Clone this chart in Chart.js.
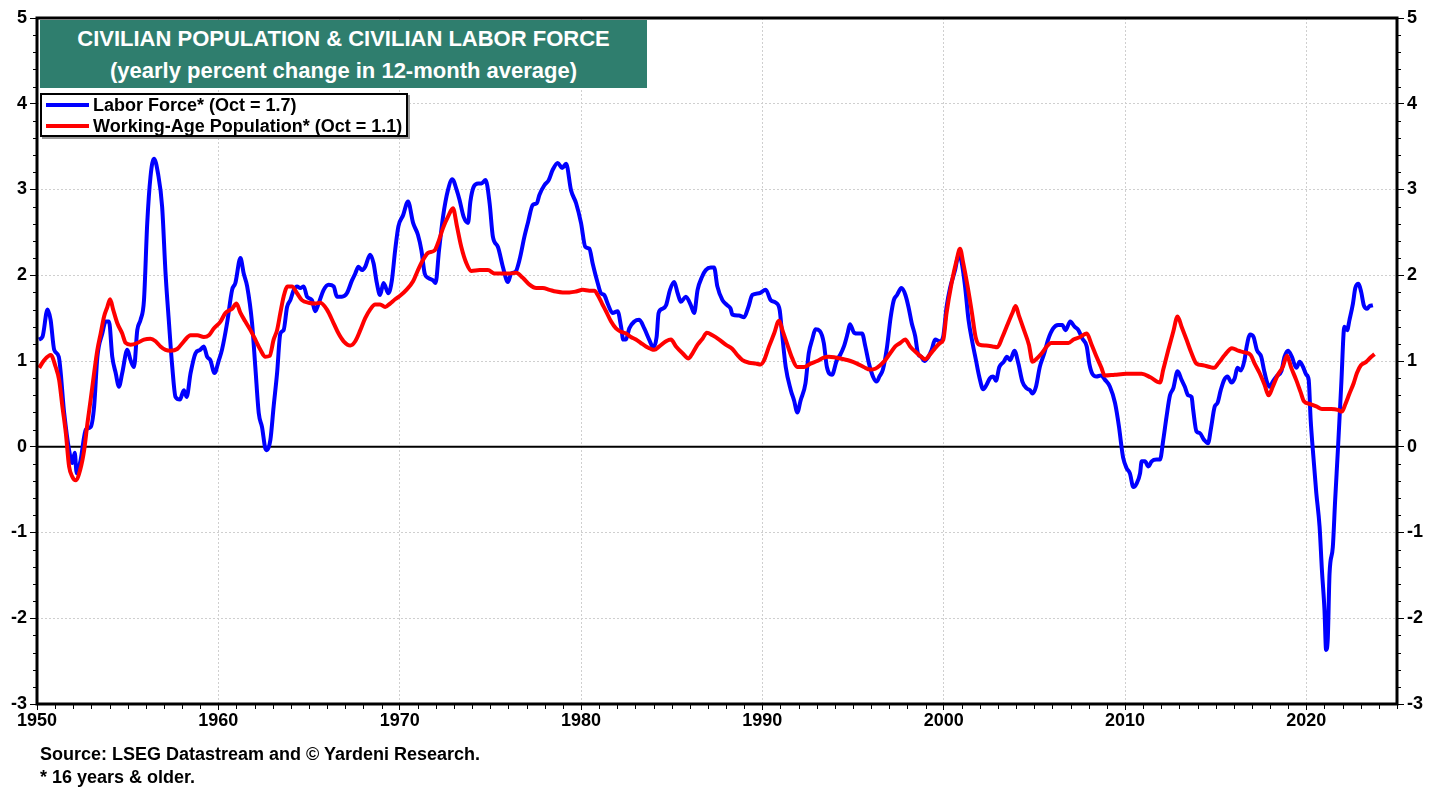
<!DOCTYPE html>
<html>
<head>
<meta charset="utf-8">
<script src="https://cdn.jsdelivr.net/npm/chart.js@4.4.0/dist/chart.umd.min.js"></script>
<style>
    html, body { margin: 0; padding: 0; background: #fff; }
    #wrap { position: relative; width: 1446px; height: 792px; font-family: 'Liberation Sans', Arial, sans-serif; font-weight: bold; color: #000; }
    #chart { position: absolute; left: 0; top: 0; }
    .title-box { position: absolute; left: 40px; top: 20px; width: 607px; height: 68px; background: #2f7e6e; color: #fff; text-align: center; font-size: 22px; line-height: 32px; padding-top: 3px; box-sizing: border-box; }
    .legend-box { position: absolute; left: 40px; top: 93px; width: 368px; height: 44px; border: 2px solid #000; background: #fff; box-sizing: border-box; box-shadow: 2px 2px 0 #9a9a9a; font-size: 18px; }
    .legend-row { position: absolute; left: 0; height: 20px; line-height: 20px; white-space: nowrap; }
    .legend-row i { position: absolute; left: 4px; top: 8px; width: 43px; height: 4px; }
    .legend-row span { position: absolute; left: 51px; top: 0; }
    .footer { position: absolute; left: 40px; font-size: 18px; white-space: nowrap; }
</style>
</head>
<body>
<div id="wrap">
    <canvas id="chart" width="1446" height="792"></canvas>
    <div class="title-box">CIVILIAN POPULATION &amp; CIVILIAN LABOR FORCE<br>(yearly percent change in 12-month average)</div>
    <div class="legend-box">
        <div class="legend-row" style="top:0px"><i style="background:#0000ff"></i><span>Labor Force* (Oct = 1.7)</span></div>
        <div class="legend-row" style="top:21px"><i style="background:#ff0000"></i><span>Working-Age Population* (Oct = 1.1)</span></div>
    </div>
    <div class="footer" style="top:744px">Source: LSEG Datastream and © Yardeni Research.</div>
    <div class="footer" style="top:767px">* 16 years &amp; older.</div>
</div>
<script>
// Valores (año decimal, % anual)
const laborYears = [
    1950.10, 1950.30, 1950.58, 1950.75, 1950.95, 1951.20, 1951.50, 1951.77, 1951.95, 1952.08,
    1952.19, 1952.41, 1952.69, 1952.96, 1953.15, 1953.33, 1953.60, 1953.79, 1953.97, 1954.15,
    1954.34, 1954.52, 1954.70, 1954.98, 1955.16, 1955.35, 1955.53, 1955.71, 1955.90, 1956.08,
    1956.26, 1956.45, 1956.67, 1956.90, 1957.09, 1957.28, 1957.46, 1957.64, 1957.88, 1958.10,
    1958.25, 1958.47, 1958.74, 1959.00, 1959.20, 1959.38, 1959.56, 1959.79, 1960.03, 1960.20,
    1960.48, 1960.76, 1960.94, 1961.22, 1961.40, 1961.59, 1961.86, 1962.04, 1962.23, 1962.41,
    1962.59, 1962.68, 1962.87, 1963.05, 1963.24, 1963.42, 1963.60, 1963.79, 1963.97, 1964.16,
    1964.34, 1964.52, 1964.71, 1964.89, 1965.16, 1965.34, 1965.53, 1965.81, 1966.08, 1966.36,
    1966.54, 1966.82, 1967.09, 1967.37, 1967.55, 1967.73, 1967.92, 1968.10, 1968.37, 1968.56,
    1968.74, 1968.92, 1969.11, 1969.38, 1969.57, 1969.75, 1969.93, 1970.19, 1970.46, 1970.74,
    1971.01, 1971.20, 1971.38, 1971.56, 1971.84, 1971.98, 1972.17, 1972.39, 1972.66, 1972.90,
    1973.15, 1973.30, 1973.53, 1973.77, 1973.90, 1974.08, 1974.33, 1974.51, 1974.74, 1974.96,
    1975.14, 1975.42, 1975.69, 1975.97, 1976.15, 1976.39, 1976.61, 1976.88, 1977.07, 1977.34,
    1977.56, 1977.71, 1977.98, 1978.22, 1978.44, 1978.72, 1978.96, 1979.18, 1979.45, 1979.73,
    1980.00, 1980.24, 1980.46, 1980.64, 1980.92, 1981.10, 1981.28, 1981.47, 1981.74, 1982.02,
    1982.21, 1982.33, 1982.48, 1982.66, 1982.94, 1983.21, 1983.49, 1983.76, 1983.98, 1984.17,
    1984.28, 1984.50, 1984.69, 1984.91, 1985.14, 1985.33, 1985.51, 1985.78, 1986.06, 1986.24,
    1986.43, 1986.67, 1986.88, 1987.16, 1987.34, 1987.52, 1987.80, 1988.07, 1988.25, 1988.35,
    1988.71, 1988.99, 1989.23, 1989.45, 1989.82, 1990.19, 1990.46, 1990.74, 1990.96, 1991.07,
    1991.29, 1991.57, 1991.75, 1991.93, 1992.11, 1992.38, 1992.56, 1992.75, 1992.93, 1993.17,
    1993.39, 1993.56, 1993.84, 1994.11, 1994.29, 1994.50, 1994.70, 1994.83, 1995.06, 1995.28,
    1995.50, 1995.68, 1995.88, 1996.10, 1996.30, 1996.46, 1996.65, 1996.88, 1997.07, 1997.25,
    1997.43, 1997.67, 1997.89, 1998.06, 1998.24, 1998.43, 1998.58, 1998.76, 1998.94, 1999.16,
    1999.34, 1999.53, 1999.80, 1999.97, 2000.16, 2000.35, 2000.63, 2000.81, 2000.96, 2001.18,
    2001.37, 2001.59, 2001.78, 2001.96, 2002.18, 2002.36, 2002.55, 2002.73, 2002.88, 2003.07,
    2003.31, 2003.49, 2003.67, 2003.90, 2004.12, 2004.34, 2004.58, 2004.76, 2004.90, 2005.09,
    2005.30, 2005.55, 2005.76, 2006.04, 2006.31, 2006.54, 2006.72, 2006.98, 2007.22, 2007.43,
    2007.65, 2007.89, 2008.03, 2008.20, 2008.43, 2008.67, 2008.90, 2009.17, 2009.45, 2009.67,
    2009.82, 2009.90, 2010.09, 2010.27, 2010.46, 2010.64, 2010.83, 2010.92, 2011.10, 2011.29,
    2011.47, 2011.74, 2011.93, 2012.11, 2012.29, 2012.48, 2012.66, 2012.90, 2013.12, 2013.30,
    2013.48, 2013.67, 2013.76, 2013.94, 2014.12, 2014.36, 2014.58, 2014.73, 2014.95, 2015.10,
    2015.28, 2015.47, 2015.65, 2015.87, 2016.05, 2016.20, 2016.39, 2016.59, 2016.71, 2016.90,
    2017.09, 2017.27, 2017.51, 2017.66, 2017.85, 2017.98, 2018.15, 2018.35, 2018.62, 2018.80,
    2018.99, 2019.20, 2019.45, 2019.63, 2019.82, 2020.00, 2020.13, 2020.24, 2020.36, 2020.55,
    2020.73, 2020.86, 2021.00, 2021.09, 2021.18, 2021.28, 2021.46, 2021.59, 2021.74, 2021.92,
    2022.10, 2022.25, 2022.38, 2022.57, 2022.70, 2022.88, 2023.03, 2023.17, 2023.35, 2023.48,
    2023.67,
];
const laborValues = [
    1.25, 1.28, 1.60, 1.48, 1.13, 1.05, 0.39, -0.04, -0.19, -0.07,
    -0.31, -0.15, 0.20, 0.23, 0.47, 1.05, 1.32, 1.46, 1.46, 1.05,
    0.86, 0.70, 0.86, 1.13, 1.01, 0.93, 1.36, 1.48, 1.71, 2.61,
    3.15, 3.36, 3.19, 2.80, 2.02, 1.44, 0.93, 0.58, 0.55, 0.66,
    0.58, 0.86, 1.09, 1.13, 1.17, 1.05, 1.01, 0.86, 1.01, 1.13,
    1.44, 1.83, 1.91, 2.20, 2.02, 1.87, 1.44, 0.93, 0.39, 0.23,
    -0.02, -0.04, 0.08, 0.47, 0.86, 1.32, 1.36, 1.63, 1.71, 1.83,
    1.87, 1.85, 1.87, 1.75, 1.71, 1.58, 1.67, 1.83, 1.89, 1.87,
    1.75, 1.75, 1.79, 1.94, 2.02, 2.10, 2.06, 2.10, 2.24, 2.14,
    1.91, 1.77, 1.91, 1.79, 1.94, 2.29, 2.57, 2.70, 2.86, 2.61,
    2.47, 2.29, 2.02, 1.97, 1.94, 1.91, 2.29, 2.68, 2.99, 3.12,
    2.99, 2.88, 2.68, 2.61, 2.86, 3.03, 3.07, 3.07, 3.11, 2.84,
    2.45, 2.33, 2.10, 1.92, 2.02, 2.04, 2.18, 2.45, 2.61, 2.82,
    2.84, 2.94, 3.05, 3.11, 3.23, 3.31, 3.25, 3.30, 2.99, 2.84,
    2.61, 2.33, 2.31, 2.14, 1.91, 1.79, 1.77, 1.67, 1.56, 1.58,
    1.40, 1.25, 1.25, 1.38, 1.46, 1.48, 1.38, 1.25, 1.16, 1.28,
    1.56, 1.61, 1.65, 1.83, 1.92, 1.79, 1.69, 1.75, 1.65, 1.56,
    1.83, 1.98, 2.06, 2.09, 2.09, 1.87, 1.71, 1.65, 1.61, 1.54,
    1.53, 1.51, 1.63, 1.77, 1.79, 1.83, 1.71, 1.68, 1.59, 1.36,
    0.93, 0.66, 0.54, 0.40, 0.54, 0.74, 1.09, 1.25, 1.37, 1.35,
    1.21, 0.93, 0.84, 1.01, 1.07, 1.17, 1.32, 1.43, 1.33, 1.32,
    1.32, 1.17, 0.97, 0.82, 0.76, 0.82, 0.90, 1.17, 1.50, 1.71,
    1.77, 1.85, 1.77, 1.63, 1.44, 1.29, 1.09, 1.05, 1.00, 1.05,
    1.13, 1.25, 1.23, 1.28, 1.63, 1.85, 2.06, 2.22, 2.18, 1.87,
    1.48, 1.21, 1.01, 0.82, 0.67, 0.72, 0.80, 0.82, 0.77, 0.93,
    0.99, 1.05, 1.01, 1.12, 0.97, 0.76, 0.68, 0.66, 0.62, 0.70,
    0.93, 1.09, 1.25, 1.38, 1.42, 1.42, 1.36, 1.46, 1.40, 1.36,
    1.26, 1.17, 0.97, 0.85, 0.82, 0.83, 0.78, 0.70, 0.51, 0.23,
    -0.02, -0.13, -0.25, -0.31, -0.47, -0.43, -0.31, -0.17, -0.17, -0.23,
    -0.17, -0.15, -0.15, 0.08, 0.35, 0.60, 0.68, 0.88, 0.78, 0.70,
    0.60, 0.58, 0.43, 0.18, 0.16, 0.08, 0.04, 0.20, 0.47, 0.51,
    0.66, 0.78, 0.82, 0.75, 0.80, 0.92, 0.89, 1.01, 1.17, 1.31,
    1.28, 1.13, 1.05, 0.90, 0.74, 0.70, 0.76, 0.82, 0.88, 1.05,
    1.12, 1.05, 0.92, 0.99, 0.93, 0.84, 0.78, 0.31, -0.04, -0.54,
    -0.93, -1.44, -1.90, -2.37, -2.25, -1.48, -1.17, -0.62, -0.04, 0.70,
    1.40, 1.36, 1.48, 1.67, 1.85, 1.90, 1.80, 1.65, 1.61, 1.64,
    1.65,
];

const popYears = [
    1950.12, 1950.40, 1950.76, 1951.03, 1951.22, 1951.40, 1951.59, 1951.77, 1951.95, 1952.14,
    1952.38, 1952.60, 1952.78, 1952.96, 1953.15, 1953.33, 1953.51, 1953.70, 1953.88, 1954.03,
    1954.20, 1954.43, 1954.70, 1954.89, 1955.16, 1955.53, 1955.90, 1956.26, 1956.54, 1956.81,
    1957.09, 1957.37, 1957.73, 1958.10, 1958.47, 1958.84, 1959.20, 1959.48, 1959.75, 1960.12,
    1960.39, 1960.76, 1961.00, 1961.22, 1961.49, 1961.77, 1962.04, 1962.32, 1962.59, 1962.83,
    1963.05, 1963.24, 1963.42, 1963.60, 1963.82, 1964.06, 1964.34, 1964.61, 1964.98, 1965.34,
    1965.62, 1965.99, 1966.36, 1966.63, 1966.91, 1967.28, 1967.55, 1967.83, 1968.10, 1968.37,
    1968.65, 1968.92, 1969.20, 1969.47, 1969.75, 1970.02, 1970.37, 1970.74, 1971.01, 1971.29,
    1971.56, 1971.93, 1972.17, 1972.39, 1972.66, 1972.94, 1973.16, 1973.40, 1973.68, 1973.95,
    1974.41, 1974.87, 1975.24, 1975.69, 1976.06, 1976.43, 1976.79, 1977.16, 1977.53, 1977.89,
    1978.26, 1978.62, 1978.99, 1979.36, 1979.72, 1980.10, 1980.46, 1980.74, 1980.92, 1981.16,
    1981.38, 1981.66, 1981.93, 1982.21, 1982.48, 1982.75, 1983.03, 1983.30, 1983.58, 1983.86,
    1984.04, 1984.32, 1984.69, 1984.96, 1985.24, 1985.60, 1985.93, 1986.15, 1986.43, 1986.70,
    1986.94, 1987.25, 1987.62, 1987.98, 1988.35, 1988.62, 1988.90, 1989.27, 1989.63, 1989.91,
    1990.10, 1990.37, 1990.65, 1990.92, 1991.14, 1991.38, 1991.65, 1991.93, 1992.30, 1992.66,
    1993.03, 1993.39, 1993.67, 1994.03, 1994.49, 1994.86, 1995.22, 1995.59, 1995.95, 1996.23,
    1996.50, 1996.78, 1997.05, 1997.33, 1997.60, 1997.88, 1998.15, 1998.43, 1998.70, 1998.98,
    1999.26, 1999.53, 1999.80, 1999.98, 2000.16, 2000.44, 2000.72, 2000.90, 2001.08, 2001.32,
    2001.56, 2001.76, 2001.96, 2002.33, 2002.70, 2002.96, 2003.24, 2003.51, 2003.79, 2003.97,
    2004.15, 2004.43, 2004.70, 2004.90, 2005.14, 2005.41, 2005.69, 2005.93, 2006.33, 2006.88,
    2007.16, 2007.53, 2007.89, 2008.16, 2008.43, 2008.70, 2008.88, 2009.44, 2010.08, 2010.92,
    2011.40, 2011.93, 2012.11, 2012.39, 2012.66, 2012.90, 2013.12, 2013.39, 2013.67, 2013.94,
    2014.30, 2014.68, 2014.92, 2015.14, 2015.50, 2015.90, 2016.24, 2016.60, 2016.93, 2017.15,
    2017.42, 2017.70, 2017.92, 2018.15, 2018.43, 2018.70, 2018.93, 2019.17, 2019.44, 2019.68,
    2019.87, 2020.18, 2020.55, 2020.86, 2021.37, 2021.74, 2021.96, 2022.14, 2022.38, 2022.61,
    2022.79, 2023.01, 2023.30, 2023.54, 2023.76,
];
const popValues = [
    0.92, 1.01, 1.07, 0.93, 0.78, 0.47, 0.16, -0.23, -0.35, -0.39,
    -0.27, -0.04, 0.27, 0.55, 0.86, 1.13, 1.32, 1.52, 1.63, 1.72,
    1.60, 1.44, 1.32, 1.21, 1.19, 1.21, 1.25, 1.26, 1.23, 1.17,
    1.13, 1.12, 1.14, 1.23, 1.30, 1.30, 1.28, 1.30, 1.38, 1.46,
    1.56, 1.61, 1.67, 1.56, 1.46, 1.36, 1.25, 1.13, 1.05, 1.06,
    1.25, 1.36, 1.56, 1.75, 1.87, 1.87, 1.79, 1.71, 1.68, 1.67,
    1.68, 1.60, 1.44, 1.32, 1.23, 1.18, 1.23, 1.36, 1.50, 1.60,
    1.66, 1.66, 1.63, 1.67, 1.72, 1.76, 1.83, 1.93, 2.06, 2.18,
    2.26, 2.29, 2.41, 2.55, 2.68, 2.78, 2.57, 2.33, 2.14, 2.05,
    2.06, 2.06, 2.02, 2.02, 2.02, 2.03, 1.97, 1.89, 1.85, 1.85,
    1.83, 1.81, 1.80, 1.80, 1.81, 1.83, 1.82, 1.82, 1.77, 1.67,
    1.58, 1.46, 1.38, 1.34, 1.32, 1.28, 1.25, 1.21, 1.17, 1.14,
    1.13, 1.17, 1.23, 1.25, 1.17, 1.09, 1.03, 1.09, 1.19, 1.26,
    1.33, 1.30, 1.25, 1.19, 1.14, 1.07, 1.01, 0.98, 0.97, 0.96,
    1.01, 1.17, 1.32, 1.47, 1.34, 1.19, 1.03, 0.93, 0.93, 0.97,
    1.00, 1.04, 1.05, 1.04, 1.02, 1.00, 0.97, 0.93, 0.90, 0.91,
    0.95, 1.01, 1.09, 1.17, 1.21, 1.25, 1.17, 1.11, 1.06, 1.02,
    1.08, 1.15, 1.21, 1.25, 1.56, 1.91, 2.18, 2.31, 2.14, 1.87,
    1.56, 1.28, 1.19, 1.18, 1.17, 1.16, 1.28, 1.42, 1.56, 1.64,
    1.53, 1.36, 1.19, 0.99, 1.03, 1.09, 1.17, 1.21, 1.21, 1.21,
    1.25, 1.28, 1.32, 1.19, 1.05, 0.92, 0.83, 0.84, 0.85, 0.85,
    0.81, 0.75, 0.90, 1.13, 1.34, 1.52, 1.40, 1.25, 1.09, 0.97,
    0.95, 0.93, 0.92, 0.97, 1.07, 1.15, 1.12, 1.10, 1.07, 0.97,
    0.86, 0.72, 0.60, 0.70, 0.84, 0.93, 1.06, 0.92, 0.78, 0.64,
    0.53, 0.50, 0.47, 0.44, 0.44, 0.43, 0.41, 0.49, 0.62, 0.74,
    0.86, 0.95, 0.99, 1.04, 1.08,
];

const xMin = 1950, xMax = 2025, xStep = 10;
const yMin = -3, yMax = 5, yStep = 1;

const COLORS = {
    labor: '#0000ff',
    pop: '#ff0000',
    grid: '#cfcfcf',
    ink: '#000000',
};
const TICK_FONT = { family: "'Liberation Sans', Arial, sans-serif", size: 18, weight: 'bold' };

const toPoints = (xs, ys) => xs.map((x, i) => ({ x, y: ys[i] }));

// marco, línea del cero y marcas menores (cada año / cada 0.2)
const framePlugin = {
    id: 'frame',
    beforeDatasetsDraw(chart) {
        const { ctx, chartArea: a, scales } = chart;
        const y0 = scales.y.getPixelForValue(0);
        ctx.save();
        ctx.strokeStyle = COLORS.ink;
        ctx.lineWidth = 2;
        ctx.beginPath();
        ctx.moveTo(a.left, y0);
        ctx.lineTo(a.right, y0);
        ctx.stroke();
        ctx.restore();
    },
    afterDraw(chart) {
        const { ctx, chartArea: a, scales } = chart;
        ctx.save();
        ctx.strokeStyle = COLORS.ink;
        ctx.lineWidth = 1;
        ctx.beginPath();
        for (let yr = xMin; yr <= xMax; yr++) {
            if ((yr - xMin) % xStep === 0) continue;
            const px = Math.round(scales.x.getPixelForValue(yr)) + 0.5;
            ctx.moveTo(px, a.bottom);
            ctx.lineTo(px, a.bottom + 5);
        }
        for (let k = 0; k <= (yMax - yMin) * 5; k++) {
            if (k % 5 === 0) continue;
            const py = Math.round(scales.y.getPixelForValue(yMin + k * 0.2)) + 0.5;
            ctx.moveTo(a.left - 4, py);
            ctx.lineTo(a.left, py);
            ctx.moveTo(a.right, py);
            ctx.lineTo(a.right + 4, py);
        }
        ctx.stroke();
        ctx.lineWidth = 3;
        ctx.strokeRect(a.left, a.top, a.right - a.left, a.bottom - a.top);
        ctx.restore();
    },
};

const yGridColor = (c) => (c.tick && (c.tick.value === yMin || c.tick.value === yMax || c.tick.value === 0) ? 'rgba(0,0,0,0)' : COLORS.grid);

new Chart(document.getElementById('chart'), {
    type: 'line',
    data: {
        datasets: [
            {
                label: 'Working-Age Population* (Oct = 1.1)',
                data: toPoints(popYears, popValues),
                borderColor: COLORS.pop,
                borderWidth: 4,
                pointRadius: 0,
                cubicInterpolationMode: 'monotone',
            },
            {
                label: 'Labor Force* (Oct = 1.7)',
                data: toPoints(laborYears, laborValues),
                borderColor: COLORS.labor,
                borderWidth: 4,
                pointRadius: 0,
                cubicInterpolationMode: 'monotone',
            },
        ],
    },
    options: {
        responsive: false,
        animation: false,
        devicePixelRatio: 1,
        layout: { padding: { top: 18, bottom: 60, left: 0, right: 0 } },
        plugins: { legend: { display: false }, tooltip: { enabled: false } },
        scales: {
            x: {
                type: 'linear',
                min: xMin,
                max: xMax,
                afterFit: (s) => { s.height = 28; },
                ticks: { stepSize: xStep, includeBounds: false, color: COLORS.ink, font: TICK_FONT, padding: 0, maxRotation: 0, callback: (v) => String(v) },
                grid: {
                    color: (c) => (c.tick && c.tick.value === xMin ? 'rgba(0,0,0,0)' : COLORS.grid),
                    tickColor: COLORS.ink,
                    tickLength: 6,
                },
                border: { display: false, dash: [2, 2] },
            },
            y: {
                position: 'left',
                min: yMin,
                max: yMax,
                afterFit: (s) => { s.width = 37; },
                ticks: { stepSize: yStep, color: COLORS.ink, font: TICK_FONT, padding: 3 },
                grid: { color: yGridColor, tickColor: COLORS.ink, tickLength: 7 },
                border: { display: false, dash: [2, 2] },
            },
            y2: {
                position: 'right',
                min: yMin,
                max: yMax,
                afterFit: (s) => { s.width = 49; },
                ticks: { stepSize: yStep, color: COLORS.ink, font: TICK_FONT, padding: 3 },
                grid: { drawOnChartArea: false, tickColor: COLORS.ink, tickLength: 7 },
                border: { display: false },
            },
        },
    },
    plugins: [framePlugin],
});
</script>
</body>
</html>
